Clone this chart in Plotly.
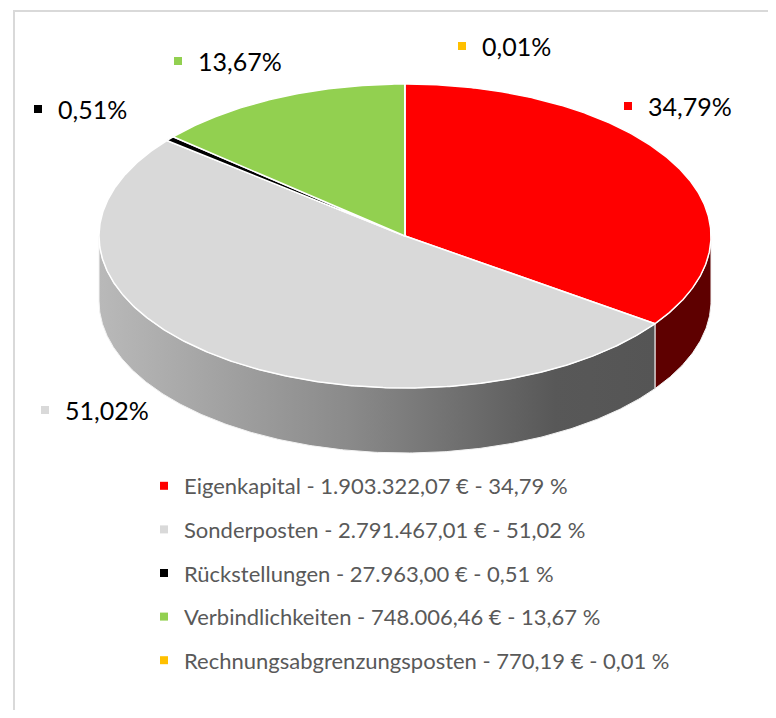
import numpy as np
import plotly.graph_objects as go

# ---- data ----
categories = ["Eigenkapital", "Sonderposten", "Rückstellungen",
              "Verbindlichkeiten", "Rechnungsabgrenzungsposten"]
amounts = [1903322.07, 2791467.01, 27963.00, 748006.46, 770.19]
percent_labels = ["34,79%", "51,02%", "0,51%", "13,67%", "0,01%"]
legend_labels = [
    "Eigenkapital - 1.903.322,07 € - 34,79 %",
    "Sonderposten - 2.791.467,01 € - 51,02 %",
    "Rückstellungen - 27.963,00 € - 0,51 %",
    "Verbindlichkeiten - 748.006,46 € - 13,67 %",
    "Rechnungsabgrenzungsposten - 770,19 € - 0,01 %",
]

# ---- styles / layout ----
top_colors = ["#FF0000", "#D9D9D9", "#000000", "#92D050", "#FFC000"]
side_colors = ["#5E0000", "gradient", "#000000", "#4E7A25", "#B08600"]
CX, CY, RX, RY, DEPTH = 405.0, 236.0, 306.0, 152.0, 65.0
# label anchor positions (marker center x, y) in page pixel space
label_pos = [(628, 106), (45, 410), (38, 109), (178, 61), (462, 46)]

# page has an 8px body margin; map axes so data units == page pixels
OFF = 8
W, H = 760, 702

vals = np.array(amounts, dtype=float)
frac = vals / vals.sum()
ends = np.cumsum(frac) * 360.0
starts = ends - frac * 360.0


def arc(a1, a2, dy=0.0, n=None):
    if n is None:
        n = max(3, int(abs(a2 - a1) * 2) + 2)
    t = np.radians(np.linspace(a1, a2, n))
    return CX + RX * np.sin(t), CY - RY * np.cos(t) + dy


fig = go.Figure()

# side walls (front half only: 90..270 degrees)
for i in range(len(vals)):
    a1, a2 = max(starts[i], 90.0), min(ends[i], 270.0)
    if a2 <= a1:
        continue
    xt, yt = arc(a1, a2)
    xb, yb = arc(a1, a2, DEPTH)
    xs = np.concatenate([xt, xb[::-1], xt[:1]])
    ys = np.concatenate([yt, yb[::-1], yt[:1]])
    kw = dict(x=xs, y=ys, mode="lines", fill="toself",
              line=dict(color="#F2F2F2", width=1),
              showlegend=False, hoverinfo="skip")
    if side_colors[i] == "gradient":
        kw["fillgradient"] = dict(
            type="horizontal",
            colorscale=[[0, "#B9B9B9"], [0.45, "#8A8A8A"],
                        [0.82, "#585858"], [1, "#555555"]])
    else:
        kw["fillcolor"] = side_colors[i]
    fig.add_trace(go.Scatter(**kw))

# top faces
for i in range(len(vals)):
    xa, ya = arc(starts[i], ends[i])
    xs = np.concatenate([[CX], xa, [CX]])
    ys = np.concatenate([[CY], ya, [CY]])
    fig.add_trace(go.Scatter(
        x=xs, y=ys, mode="lines", fill="toself",
        fillcolor=top_colors[i],
        line=dict(color="#FFFFFF", width=1.5),
        name=categories[i], text=legend_labels[i], hoverinfo="text",
        showlegend=False))

# data label markers
fig.add_trace(go.Scatter(
    x=[p[0] for p in label_pos], y=[p[1] for p in label_pos],
    mode="markers",
    marker=dict(symbol="square", size=8, color=top_colors,
                line=dict(width=0)),
    showlegend=False, hoverinfo="skip"))

annotations = []
for i, (px, py) in enumerate(label_pos):
    annotations.append(dict(
        x=px + 18, y=py, xref="x", yref="y", text=percent_labels[i],
        showarrow=False, xanchor="left", yanchor="middle",
        font=dict(family="Lato, sans-serif", size=25, color="#000000")))

# legend entries
for i in range(len(vals)):
    fig.add_trace(go.Scatter(
        x=[None], y=[None], mode="markers",
        marker=dict(symbol="square", size=8, color=top_colors[i]),
        name=legend_labels[i], legendgroup=f"g{i}", showlegend=True))

fig.update_layout(
    width=W, height=H,
    margin=dict(l=0, r=0, t=0, b=0),
    paper_bgcolor="white", plot_bgcolor="white",
    xaxis=dict(range=[OFF, OFF + W], visible=False, fixedrange=True),
    yaxis=dict(range=[OFF + H, OFF], visible=False, fixedrange=True),
    annotations=annotations,
    shapes=[dict(type="rect", xref="x", yref="y", x0=14, y0=11,
                 x1=OFF + W + 20, y1=OFF + H + 20,
                 line=dict(color="#D9D9D9", width=2),
                 fillcolor="rgba(0,0,0,0)", layer="below")],
    legend=dict(x=(144 - OFF) / W, y=1 - (465 - OFF) / H,
                xanchor="left", yanchor="top",
                font=dict(family="Lato, sans-serif", size=22,
                          color="#595959"),
                tracegroupgap=12, traceorder="grouped",
                bgcolor="rgba(0,0,0,0)", itemclick=False,
                itemdoubleclick=False),
    showlegend=True,
)

fig.write_html("out.html")
